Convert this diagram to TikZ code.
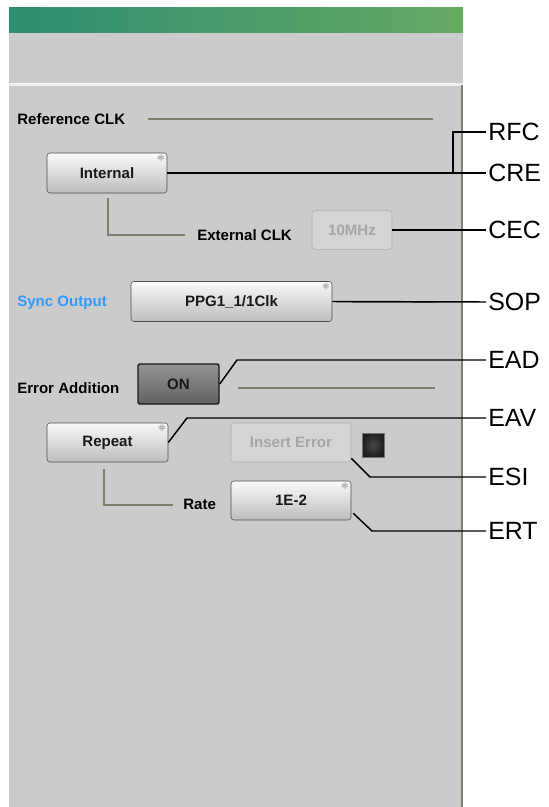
\documentclass[tikz,border=0pt]{standalone}
\usepackage{fontspec}
\setmainfont{Liberation Sans}
\usetikzlibrary{arrows.meta}
\definecolor{bargreenl}{rgb}{0.18,0.56,0.45}
\definecolor{bargreenr}{rgb}{0.40,0.66,0.38}
\definecolor{panelgrey}{rgb}{0.796,0.796,0.796}
\definecolor{rulegrey}{rgb}{0.50,0.49,0.44}
\definecolor{syncblue}{rgb}{0.20,0.60,1.0}
\definecolor{offtext}{rgb}{0.65,0.65,0.65}

\begin{document}
\begin{tikzpicture}[
  x=0.75pt, y=-0.75pt,
  every node/.style={font=\fontsize{11.3}{13}\selectfont\bfseries},
  button/.style={rectangle, rounded corners=2.2pt, draw=black!70, top color=gray!4, bottom color=gray!52,
    inner sep=0pt, text=black!90,
    path picture={\fill[gray!65] ([xshift=-5.6pt,yshift=-2.4pt]path picture bounding box.north east) rectangle ++(0.6pt,-0.6pt)
      ([xshift=-4.2pt,yshift=-2.4pt]path picture bounding box.north east) rectangle ++(0.6pt,-0.6pt)
      ([xshift=-5.6pt,yshift=-3.8pt]path picture bounding box.north east) rectangle ++(0.6pt,-0.6pt)
      ([xshift=-4.2pt,yshift=-3.8pt]path picture bounding box.north east) rectangle ++(0.6pt,-0.6pt);}},
  offbutton/.style={rectangle, rounded corners=2.2pt, draw=gray!62, line width=0.5pt, fill=gray!33,
    inner sep=0pt, text=offtext},
  onbutton/.style={rectangle, rounded corners=1.5pt, draw=black!90, line width=1.1pt, top color=black!42,
    bottom color=black!62, inner sep=0pt, text=black!90},
  paneltext/.style={anchor=west, inner sep=0pt},
  tag/.style={anchor=west, inner sep=1.5pt, font=\fontsize{18.7}{20}\selectfont},
  sepline/.style={rulegrey, line width=1.5pt},
  callout/.style={-, black, line width=1.1pt},
]
\useasboundingbox (0,0) rectangle (549,807);

% ---- window frame ----
\shade[left color=bargreenl, right color=bargreenr] (9,7) rectangle (463,33);
\fill[panelgrey] (9,33) rectangle (463,83);
\fill[gray!12] (9,83) rectangle (463,85.5);
\fill[panelgrey] (9,85.5) rectangle (462,807);
\draw[rulegrey, line width=1.3pt] (462,85) -- (462,807);

% ---- reference clock ----
\node[paneltext] (refclk) at (17,119) {Reference CLK};
\draw[sepline] (148,119) -- (433,119);
\node[button, minimum width=90pt, minimum height=30pt] (internal) at (107,173) {Internal};
\draw[sepline] (108,198) |- (185,235);
\node[paneltext] (extclk) at (197,235) {External CLK};
\node[offbutton, minimum width=60pt, minimum height=29pt] (tenmhz) at (352,230) {10MHz};

% ---- sync output ----
\node[paneltext, text=syncblue] (sync) at (17,303) {Sync Output};
\node[button, minimum width=150.75pt, minimum height=30pt] (ppg) at (231.5,301.5) {PPG1\_1/1Clk};
\draw[sepline] (352,302) -- (435,302);

% ---- error addition ----
\node[paneltext] (erradd) at (17,388) {Error Addition};
\node[onbutton, minimum width=60.75pt, minimum height=30pt] (on) at (178.5,384) {ON};
\draw[sepline] (238,388) -- (435,388);
\node[button, minimum width=90.75pt, minimum height=29.25pt] (repeat) at (107.5,442.5) {Repeat};
\node[offbutton, minimum width=90pt, minimum height=29.25pt] (insert) at (291,442.5) {Insert Error};
\node[rectangle, draw=black!55, line width=0.6pt, inner color=black!72, outer color=black!88,
  minimum width=16.5pt, minimum height=18pt, inner sep=0pt] (led) at (373,445) {};
\draw[sepline] (104,469) |- (173,505);
\node[paneltext] (rate) at (183,504) {Rate};
\node[button, minimum width=90pt, minimum height=29.25pt] (errrate) at (291,500.5) {1E-2};

% ---- callout tags ----
\node[tag] (rfc) at (486,132) {RFC};
\node[tag] (cre) at (486,173) {CRE};
\node[tag] (cec) at (486,230) {CEC};
\node[tag] (sop) at (486,302) {SOP};
\node[tag] (ead) at (486,360) {EAD};
\node[tag] (eav) at (486,418) {EAV};
\node[tag] (esi) at (486,477) {ESI};
\node[tag] (ert) at (486,531) {ERT};

% ---- callout lines ----
\coordinate (crefork) at (453,173);
\draw[callout] (internal.east) -- (cre.west);
\draw[callout] (crefork) |- (rfc.west);
\draw[callout] (tenmhz.east) -- (cec.west);
\draw[callout] (ppg.east) -- (sop.west);
\draw[callout] (on.east) -- (237,360) -- (ead.west);
\draw[callout] (repeat.east) -- (187,418) -- (eav.west);
\draw[callout] ([shift={(0,-4)}]insert.south east) -- (370,477) -- (esi.west);
\draw[callout] ([shift={(2,-7)}]errrate.south east) -- (372,531) -- (ert.west);

\end{tikzpicture}
\end{document}
